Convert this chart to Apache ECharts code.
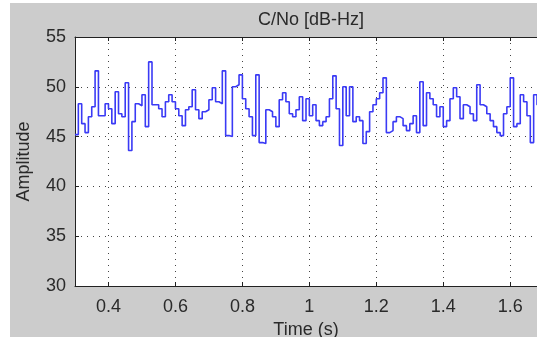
<!DOCTYPE html>
<html>
<head>
<meta charset="utf-8">
<script src="https://cdn.jsdelivr.net/npm/echarts@6/dist/echarts.min.js"></script>
<style>
  html, body { margin: 0; padding: 0; background: #fff; }
  #fig { position: absolute; left: 10px; top: 3px; width: 527px; height: 334px; }
</style>
</head>
<body>
<div id="fig"></div>
<script>
// sample times: start + step (s)
var t0 = 0.3, dt = 0.01;
// C/No estimates, one per step
var cno = [
  45.2, 48.3, 46.3, 45.4, 47.0, 48.0, 51.6, 47.1, 47.1, 48.3,
  47.8, 46.3, 49.5, 47.3, 47.0, 50.4, 43.6, 46.5, 48.3, 48.1,
  49.2, 46.0, 52.5, 48.2, 48.2, 47.8, 47.0, 48.5, 49.2, 48.5,
  47.8, 47.1, 46.1, 47.7, 48.0, 49.7, 47.7, 46.8, 47.5, 47.7,
  48.7, 49.9, 48.5, 48.3, 51.6, 45.1, 45.0, 50.0, 50.2, 51.2,
  48.8, 47.8, 47.0, 45.1, 51.2, 44.4, 44.3, 47.7, 47.5, 47.0,
  46.0, 48.7, 49.4, 48.5, 47.3, 47.0, 47.7, 49.0, 46.6, 48.8,
  47.1, 48.2, 46.6, 46.1, 46.5, 47.0, 48.8, 51.1, 47.8, 44.1,
  50.0, 47.1, 50.0, 46.5, 47.0, 46.6, 44.3, 45.5, 47.5, 48.2,
  48.8, 49.4, 50.9, 45.4, 45.6, 46.5, 47.0, 46.8, 46.1, 45.6,
  46.3, 47.1, 45.4, 50.5, 46.1, 49.4, 48.8, 48.2, 47.0, 48.0,
  46.0, 46.6, 48.8, 49.9, 49.0, 46.8, 48.2, 48.0, 47.3, 46.6,
  50.2, 48.2, 48.0, 47.3, 46.6, 46.0, 45.4, 45.1, 47.3, 48.0,
  50.9, 46.0, 46.3, 49.2, 48.5, 47.1, 44.4, 49.2, 48.2, 45.3,
  47.5
];
var xTicks = [0.4, 0.6, 0.8, 1, 1.2, 1.4, 1.6];
var yTicks = [30, 35, 40, 45, 50, 55];

var font = "'Liberation Sans', Arial, sans-serif";
var txt = '#2a2a2a';

var points = cno.map(function (v, i) {
  return [+(t0 + i * dt).toFixed(2), v];
});
// hold last value to the end of its step
points.push([+(t0 + cno.length * dt).toFixed(2), cno[cno.length - 1]]);

var gridLine = { show: true, lineStyle: { color: '#444', width: 1, type: [1, 5] } };
var axisLine = { show: true, onZero: false, lineStyle: { color: '#222', width: 1 } };

var chart = echarts.init(document.getElementById('fig'));
chart.setOption({
  animation: false,
  backgroundColor: '#cccccc',
  title: {
    text: 'C/No [dB-Hz]',
    left: 296,
    top: 3,
    textAlign: 'center',
    textStyle: { fontFamily: font, fontSize: 18, fontWeight: 'normal', color: txt }
  },
  grid: {
    left: 65, top: 34, right: 0, bottom: 51,
    outerBoundsMode: 'none', containLabel: false,
    show: true, backgroundColor: '#fff', borderWidth: 0
  },
  xAxis: [{
    type: 'value',
    min: 0.3,
    max: 1.68,
    name: 'Time (s)',
    nameLocation: 'middle',
    nameGap: 35,
    nameTextStyle: { fontFamily: font, fontSize: 18, color: txt },
    axisLine: axisLine,
    axisTick: { show: true, inside: true, length: 4, customValues: xTicks, lineStyle: { color: '#222' } },
    axisLabel: { customValues: xTicks, margin: 12, fontFamily: font, fontSize: 18, color: txt },
    splitLine: gridLine
  }, {
    type: 'value',
    position: 'top',
    min: 0.3,
    max: 1.68,
    axisLine: axisLine,
    axisTick: { show: true, inside: true, length: 4, customValues: xTicks, lineStyle: { color: '#222' } },
    axisLabel: { show: false },
    splitLine: { show: false }
  }],
  yAxis: {
    type: 'value',
    min: 30,
    max: 55,
    interval: 5,
    name: 'Amplitude',
    nameLocation: 'middle',
    nameGap: 42,
    nameTextStyle: { fontFamily: font, fontSize: 18, color: txt },
    axisLine: axisLine,
    axisTick: { show: true, inside: true, length: 4, lineStyle: { color: '#222' } },
    axisLabel: { customValues: yTicks, margin: 9, fontFamily: font, fontSize: 18, color: txt },
    splitLine: gridLine
  },
  series: [{
    type: 'line',
    step: 'end',
    data: points,
    showSymbol: false,
    clip: true,
    lineStyle: { color: '#3a3af5', width: 1.6 }
  }]
});
</script>
</body>
</html>
